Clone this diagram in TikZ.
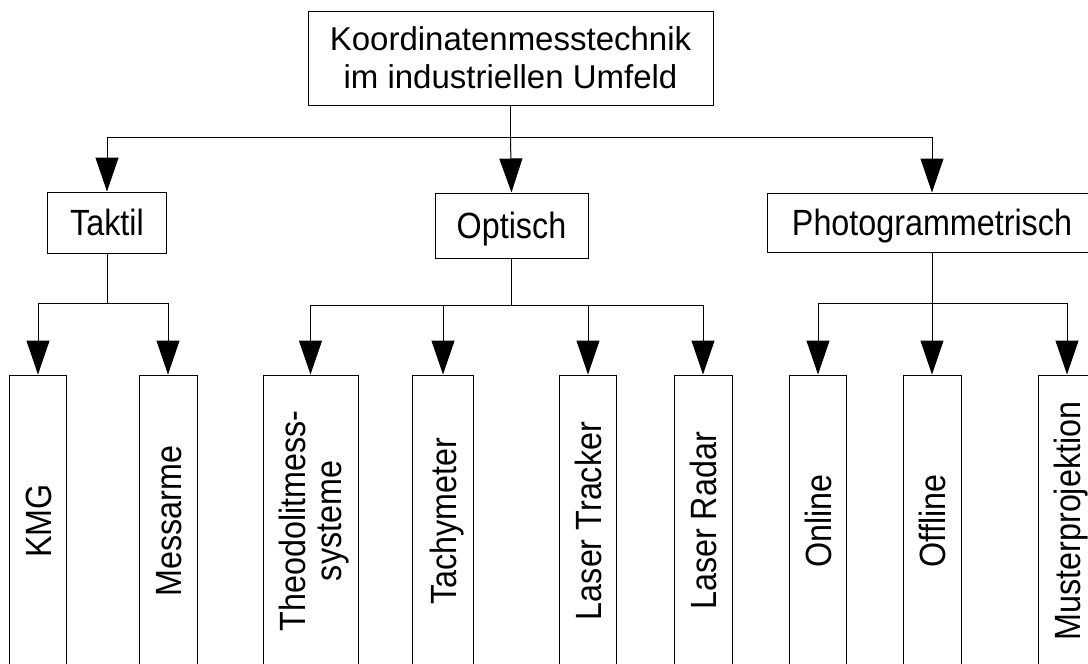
\documentclass[tikz,border=0pt]{standalone}
\usepackage{fontspec}
\setmainfont{Liberation Sans}
\usetikzlibrary{arrows.meta,calc}

% labels set slightly condensed, boxed to cap height so the capitals sit centred;
% vertical ones read from bottom to top
\newcommand{\hlab}[1]{\scalebox{0.885}[1]{\raisebox{0pt}[26.2pt][0pt]{#1}}}
\newcommand{\vlab}[1]{\rotatebox{90}{\hlab{#1}}}
\newcommand{\vlabtwo}[2]{\rotatebox{90}{\scalebox{0.885}[1]{%
  \raisebox{0pt}[26.2pt][36pt]{\begin{tabular}[t]{@{}c@{}}#1\\#2\end{tabular}}}}}

\tikzset{
  box/.style={draw=black, line width=1pt, inner sep=0pt, align=center,
              font=\fontsize{36.5}{36}\selectfont},
  leaf/.style={box, minimum height=292pt},
  link/.style={draw=black, line width=1pt},
  arr/.style={link, -{Triangle[length=34pt,width=23pt]}},
}

\begin{document}
\begin{tikzpicture}[x=1pt, y=-1pt]
  \useasboundingbox (0,0) rectangle (1088,664);

  % root and first level
  \node[box, minimum width=405pt, minimum height=94pt,
        font=\fontsize{33}{38}\selectfont] (root) at (510.5,58)
    {Koordinatenmesstechnik\\im industriellen Umfeld};
  \node[box, minimum width=119pt, minimum height=61pt] (tak) at (107,222.5) {\hlab{Taktil}};
  \node[box, minimum width=153pt, minimum height=65pt] (opt) at (511.5,225.5) {\hlab{Optisch}};
  \node[box, minimum width=330pt, minimum height=59pt] (pho) at (932,222.5) {\hlab{Photogrammetrisch}};

  % second level (vertical boxes)
  \node[leaf, minimum width=57pt] (kmg) at (38,521) {\vlab{KMG}};
  \node[leaf, minimum width=58pt] (arm) at (168,521) {\vlab{Messarme}};
  \node[leaf, minimum width=95pt] (theo) at (310.5,521) {\vlabtwo{Theodolitmess-}{systeme}};
  \node[leaf, minimum width=61pt] (tachy) at (443,521) {\vlab{Tachymeter}};
  \node[leaf, minimum width=57pt] (ltr) at (588,521) {\vlab{Laser Tracker}};
  \node[leaf, minimum width=58pt] (lrad) at (703,521) {\vlab{Laser Radar}};
  \node[leaf, minimum width=57pt] (onl) at (818,521) {\vlab{Online}};
  \node[leaf, minimum width=58pt] (off) at (932,521) {\vlab{Offline}};
  \node[leaf, minimum width=58pt] (mus) at (1067,521) {\vlab{Musterprojektion}};

  % branch points
  \coordinate (j0) at ($(root.south)+(0,32)$);
  \coordinate (j1) at ($(tak.south)+(0,50)$);
  \coordinate (j2) at ($(opt.south)+(0,47)$);
  \coordinate (j3) at ($(pho.south)+(0,51)$);

  % root connectors
  \draw[link] (root.south) -- (j0);
  \draw[arr] (j0) -| (tak.north);
  \draw[arr] (j0) -- (opt.north);
  \draw[arr] (j0) -| (pho.north);

  % tactile branch
  \draw[link] (tak.south) -- (j1);
  \draw[arr] (j1) -| (kmg.north);
  \draw[arr] (j1) -| (arm.north);

  % optical branch
  \draw[link] (opt.south) -- (j2);
  \draw[arr] (j2) -| (theo.north);
  \draw[arr] (j2) -| (tachy.north);
  \draw[arr] (j2) -| (ltr.north);
  \draw[arr] (j2) -| (lrad.north);

  % photogrammetric branch
  \draw[link] (pho.south) -- (j3);
  \draw[arr] (j3) -| (onl.north);
  \draw[arr] (j3) -- (off.north);
  \draw[arr] (j3) -| (mus.north);
\end{tikzpicture}
\end{document}
